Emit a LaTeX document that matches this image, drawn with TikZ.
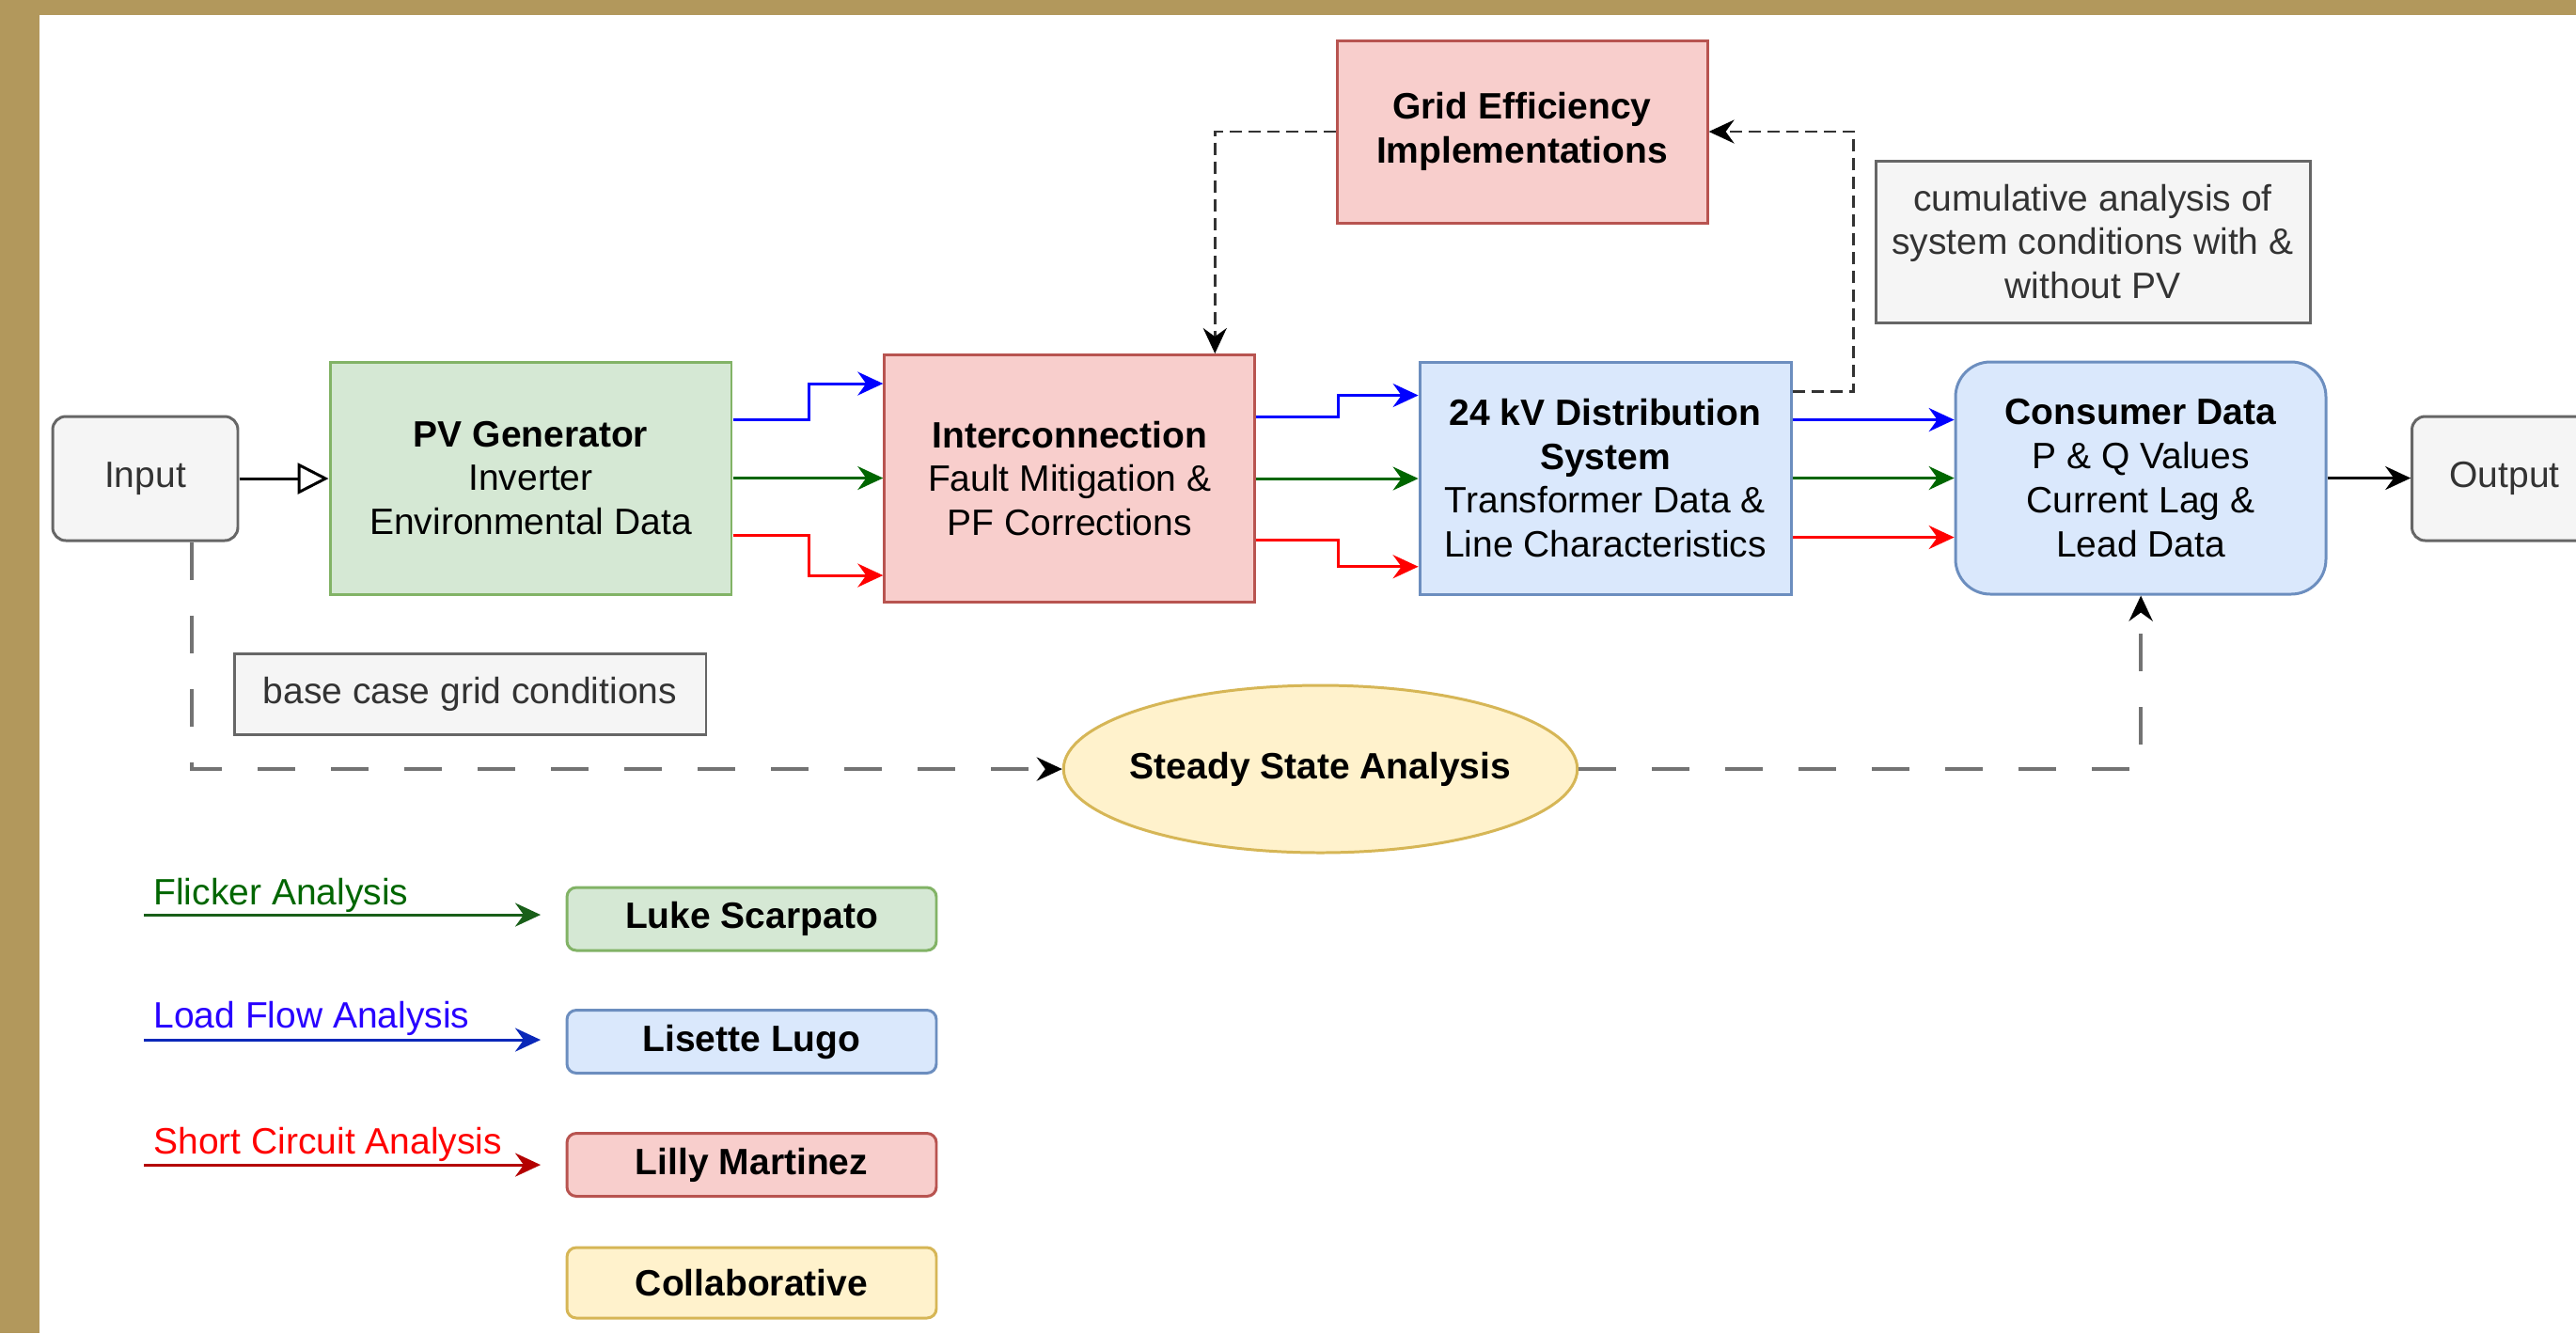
\documentclass[tikz,border=0pt]{standalone}
\usepackage{fontspec}
\setmainfont{Liberation Sans}
\usetikzlibrary{arrows.meta,calc,shapes.geometric}

\definecolor{frame}{RGB}{178,152,92}
\definecolor{grnf}{HTML}{D5E8D4}
\definecolor{grnd}{HTML}{82B366}
\definecolor{redf}{HTML}{F8CECC}
\definecolor{redd}{HTML}{B85450}
\definecolor{bluf}{HTML}{DAE8FC}
\definecolor{blud}{HTML}{6C8EBF}
\definecolor{yelf}{HTML}{FFF2CC}
\definecolor{yeld}{HTML}{D6B656}
\definecolor{gryf}{HTML}{F5F5F5}
\definecolor{gryd}{HTML}{666666}
\definecolor{grytxt}{HTML}{333333}
\definecolor{flowb}{HTML}{0000FF}
\definecolor{flowg}{HTML}{006600}
\definecolor{flowr}{HTML}{FF0000}
\definecolor{loadtxt}{RGB}{40,0,255}
\definecolor{legg}{RGB}{25,95,25}
\definecolor{legb}{RGB}{10,40,185}
\definecolor{legr}{RGB}{180,0,0}

\begin{document}
\begin{tikzpicture}[scale=0.1]
            \tikzstyle{every node}+=[inner sep=0pt, align=center, line width=0.85pt, font=\fontsize{11.1}{13.3}\selectfont]
            \tikzstyle{greenbox}=[draw=grnd, fill=grnf]
            \tikzstyle{redbox}=[draw=redd, fill=redf]
            \tikzstyle{bluebox}=[draw=blud, fill=bluf]
            \tikzstyle{yellowbox}=[draw=yeld, fill=yelf]
            \tikzstyle{greybox}=[draw=gryd, fill=gryf, text=grytxt]
            \tikzstyle{bigblock}=[minimum width=3.94cm, minimum height=2.47cm]
            \tikzstyle{legbox}=[rounded corners=1mm, minimum width=3.93cm, minimum height=0.67cm, font=\fontsize{11.1}{13.3}\selectfont\bfseries]
            \tikzstyle{tip}=[-{Stealth[length=2.7mm, width=2.5mm, inset=0.9mm]}]
            \tikzstyle{blacktip}=[-{Stealth[length=2.7mm, width=2.5mm, inset=0.9mm, color=black]}]
            \tikzstyle{blueline}=[tip, draw=flowb, line width=0.85pt]
            \tikzstyle{greenline}=[tip, draw=flowg, line width=0.85pt]
            \tikzstyle{redline}=[tip, draw=flowr, line width=0.85pt]
            \tikzstyle{blackline}=[tip, draw=black, line width=0.85pt]
            \tikzstyle{shortdash}=[blacktip, draw=black!80, line width=0.8pt, dash pattern=on 1.3mm off 0.7mm]
            \tikzstyle{longdash}=[blacktip, draw=black!55, line width=1.2pt, dash pattern=on 4mm off 3.8mm]
            \useasboundingbox (0,0) rectangle (274,-141.8);
            \fill [frame] (0,0) rectangle (274,-141.8);
            \fill [white] (4.2,-1.6) rectangle (274,-141.8);
            \clip (0,0) rectangle (274,-141.8);
            \node (input) [greybox, rounded corners=1.4mm, minimum width=1.97cm, minimum height=1.32cm] at (15.45,-50.9) {Input};
            \node (pv) [greenbox, minimum width=4.27cm, minimum height=2.47cm] at (56.45,-50.85) {\textbf{PV Generator}\\Inverter\\Environmental Data};
            \node (inter) [redbox, minimum width=3.94cm, minimum height=2.63cm] at (113.77,-50.9) {\textbf{Interconnection}\\Fault Mitigation \&\\PF Corrections};
            \node (grid) [redbox, minimum width=3.94cm, minimum height=1.94cm] at (161.9,-14.0) {\textbf{Grid Efficiency}\\\textbf{Implementations}};
            \node (dist) [bluebox, bigblock, minimum width=3.95cm] at (170.75,-50.85) {\textbf{24 kV Distribution}\\\textbf{System}\\Transformer Data \&\\Line Characteristics};
            \node (cons) [bluebox, bigblock, rounded corners=3.7mm] at (227.7,-50.85) {\textbf{Consumer Data}\\P \& Q Values\\Current Lag \&\\Lead Data};
            \node (output) [greybox, rounded corners=1.4mm, minimum width=1.97cm, minimum height=1.32cm] at (266.4,-50.9) {Output};
            \node (cumul) [greybox, minimum width=4.62cm, minimum height=1.72cm] at (222.6,-25.7) {cumulative analysis of\\system conditions with \&\\without PV};
            \node (basecase) [greybox, minimum width=5.02cm, minimum height=0.86cm] at (50.0,-73.8) {base case grid conditions};
            \node (steady) [yellowbox, ellipse, inner xsep=-0.95mm, minimum width=5.46cm, minimum height=1.78cm] at (140.45,-81.8) {\textbf{Steady State Analysis}};
            \draw [blackline, -{Triangle[open, length=3.3mm, width=3.3mm]}] (input.east) -- (pv.west |- input.east);
            \draw [blueline] ($(pv.east)+(0,6.25)$) -- ++(8.1,0) |- ($(inter.west)+(0,10.1)$);
            \draw [greenline] (pv.east) -- (inter.west |- pv.east);
            \draw [redline] ($(pv.east)+(0,-6.05)$) -- ++(8.1,0) |- ($(inter.west)+(0,-10.3)$);
            \draw [blueline] ($(inter.east)+(0,6.6)$) -- ++(8.73,0) |- ($(dist.west)+(0,8.8)$);
            \draw [greenline] (inter.east) -- (dist.west |- inter.east);
            \draw [redline] ($(inter.east)+(0,-6.56)$) -- ++(8.73,0) |- ($(dist.west)+(0,-9.42)$);
            \draw [blueline] ($(dist.east)+(0,6.2)$) -- ($(cons.west)+(0,6.2)$);
            \draw [greenline] (dist.east) -- (cons.west);
            \draw [redline] ($(dist.east)+(0,-6.3)$) -- ($(cons.west)+(0,-6.3)$);
            \draw [blackline] (cons.east) -- (output.west |- cons.east);
            \draw [shortdash] ($(dist.east)+(0,9.2)$) -- ++(6.47,0) |- (grid.east);
            \draw [shortdash] (grid.west) -| ($(inter.north)+(15.45,0)$);
            \draw [longdash] ($(input.south)+(4.95,0)$) |- (steady.west);
            \draw [longdash] (steady.east) -| (cons.south);
            \node (luke) [greenbox, legbox] at (79.95,-97.75) {Luke Scarpato};
            \node (lisette) [bluebox, legbox] at (79.95,-110.8) {Lisette Lugo};
            \node (lilly) [redbox, legbox] at (79.95,-123.9) {Lilly Martinez};
            \node (collab) [yellowbox, legbox, minimum height=0.75cm] at (79.95,-136.45) {Collaborative};
            \coordinate (flks) at (15.3,-97.3);
            \coordinate (flke) at (57.5,-97.3);
            \coordinate (lfas) at (15.3,-110.6);
            \coordinate (lfae) at (57.5,-110.6);
            \coordinate (scas) at (15.3,-123.9);
            \coordinate (scae) at (57.5,-123.9);
            \node (flicker) [anchor=base west, text=flowg] at (16.2,-96.2) {Flicker Analysis};
            \node (loadflow) [anchor=base west, text=loadtxt] at (16.2,-109.3) {Load Flow Analysis};
            \node (shortcirc) [anchor=base west, text=flowr] at (16.2,-122.7) {Short Circuit Analysis};
            \draw [tip, draw=legg, line width=0.9pt] (flks) -- (flke);
            \draw [tip, draw=legb, line width=0.9pt] (lfas) -- (lfae);
            \draw [tip, draw=legr, line width=0.9pt] (scas) -- (scae);
\end{tikzpicture}
\end{document}
